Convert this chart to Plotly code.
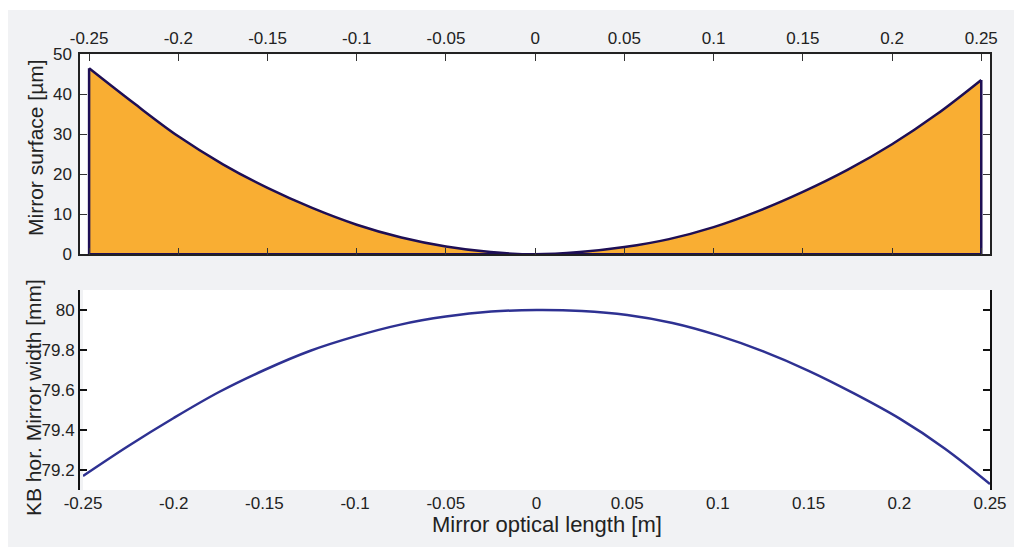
import plotly.graph_objects as go

# ---------------- data ----------------
# Mirror optical length [m]
x_pos = [-0.25, -0.225, -0.2, -0.175, -0.15, -0.125, -0.1, -0.075, -0.05, -0.025, 0.0,
         0.025, 0.05, 0.075, 0.1, 0.125, 0.15, 0.175, 0.2, 0.225, 0.25]
# Mirror surface [µm]
surface_um = [46.5, 37.8, 29.5, 22.5, 16.6, 11.6, 7.4, 4.2, 1.95, 0.55, 0.0,
              0.55, 1.8, 3.8, 6.8, 10.8, 15.6, 21.1, 27.5, 35.0, 43.6]
# KB hor. Mirror width [mm]
width_mm = [79.17, 79.32, 79.46, 79.59, 79.70, 79.795, 79.868, 79.927, 79.967, 79.992, 80.0,
            79.995, 79.975, 79.935, 79.873, 79.793, 79.696, 79.583, 79.458, 79.308, 79.13]

x_tickvals = [-0.25, -0.2, -0.15, -0.1, -0.05, 0, 0.05, 0.1, 0.15, 0.2, 0.25]
x_ticktext = ["-0.25", "-0.2", "-0.15", "-0.1", "-0.05", "0", "0.05", "0.1", "0.15", "0.2", "0.25"]
x_tick_marks_bottom = [-0.2, -0.1, 0, 0.1, 0.2]
y1_tickvals = [0, 10, 20, 30, 40, 50]
y2_tickvals = [79.2, 79.4, 79.6, 79.8, 80.0]
y2_ticktext = ["79.2", "79.4", "79.6", "79.8", "80"]

# ---------------- style ----------------
W, H = 1014, 547
FONT = "Liberation Sans, Arial, Helvetica, sans-serif"
ORANGE = "#F9AE33"
NAVY_DARK = "#1E0F55"
NAVY = "#2E3192"
BG = "#F1F2F4"
TICKFONT = dict(family=FONT, size=17, color="#222222")

def px(v, total):
    return v / total

fig = go.Figure()

# top: filled surface profile (fill only)
fill_x = [x_pos[0]] + x_pos + [x_pos[-1], x_pos[0]]
fill_y = [0] + surface_um + [0, 0]
fig.add_trace(go.Scatter(
    x=fill_x, y=fill_y, mode="lines", fill="toself", fillcolor=ORANGE,
    line=dict(color=ORANGE, width=0), xaxis="x", yaxis="y",
    hoverinfo="skip", showlegend=False))
# outline: vertical edges + bottom
fig.add_trace(go.Scatter(
    x=[x_pos[0], x_pos[0], None, x_pos[-1], x_pos[-1], None, x_pos[0], x_pos[-1]],
    y=[0, surface_um[0], None, 0, surface_um[-1], None, 0, 0],
    mode="lines", line=dict(color=NAVY_DARK, width=2.5), xaxis="x", yaxis="y",
    hoverinfo="skip", showlegend=False))
# outline: curve
fig.add_trace(go.Scatter(
    x=x_pos, y=surface_um, mode="lines", line=dict(color=NAVY_DARK, width=2.5, shape="spline"),
    xaxis="x", yaxis="y", showlegend=False))

# bottom: mirror width
fig.add_trace(go.Scatter(
    x=x_pos, y=width_mm, mode="lines", line=dict(color=NAVY, width=2.5, shape="spline"),
    xaxis="x3", yaxis="y2", showlegend=False))

top_x_dom = [px(80, W), px(990, W)]
top_y_dom = [1 - px(254.3, H), 1 - px(54.3, H)]
bot_x_dom = [px(83, W), px(990, W)]
bot_y_dom = [1 - px(490, H), 1 - px(290, H)]

common = dict(showgrid=False, zeroline=False, automargin=False)

fig.update_layout(
    template="none",
    width=W, height=H,
    margin=dict(l=0, r=0, t=0, b=0, pad=0),
    paper_bgcolor=BG, plot_bgcolor="white",
    showlegend=False,
    xaxis=dict(domain=top_x_dom, range=[-0.2551, 0.2549], anchor="y", side="top",
               tickmode="array", tickvals=x_tickvals, ticktext=x_ticktext,
               ticks="inside", ticklen=7, tickwidth=1, tickcolor="#333333",
               showline=True, linewidth=1.5, linecolor="#222222", mirror="ticks",
               tickfont=TICKFONT, ticklabelstandoff=2, **common),
    yaxis=dict(domain=top_y_dom, range=[0, 50], anchor="x",
               tickmode="array", tickvals=y1_tickvals,
               ticks="inside", ticklen=7, tickwidth=1, tickcolor="#333333",
               showline=True, linewidth=1.5, linecolor="#222222", mirror="ticks",
               tickfont=TICKFONT, ticklabelstandoff=3, **common),
    xaxis2=dict(domain=bot_x_dom, range=[-0.25, 0.25], anchor="y2",
                tickmode="array", tickvals=x_tick_marks_bottom, showticklabels=False,
                ticks="inside", ticklen=7, tickwidth=2, tickcolor="#111111",
                showline=True, linewidth=2, linecolor="#111111", mirror="ticks", **common),
    xaxis3=dict(domain=bot_x_dom, range=[-0.25, 0.25], anchor="y2", overlaying="x2",
                tickmode="array", tickvals=x_tickvals, ticktext=x_ticktext,
                ticks="", showline=False, tickfont=TICKFONT, ticklabelstandoff=1, **common),
    yaxis2=dict(domain=bot_y_dom, range=[79.1, 80.1], anchor="x2",
                tickmode="array", tickvals=y2_tickvals, ticktext=y2_ticktext,
                ticks="inside", ticklen=7, tickwidth=2, tickcolor="#111111",
                showline=True, linewidth=2, linecolor="#111111", mirror="ticks",
                tickfont=TICKFONT, **common),
    shapes=[
        dict(type="rect", xref="paper", yref="paper", x0=0, x1=px(8, W), y0=0, y1=1,
             fillcolor="white", line=dict(width=0), layer="below"),
        dict(type="rect", xref="paper", yref="paper", x0=0, x1=1, y0=1 - px(10, H), y1=1,
             fillcolor="white", line=dict(width=0), layer="below"),
    ],
    annotations=[
        dict(text="Mirror surface [µm]", textangle=-90, xref="paper", yref="paper",
             x=px(35, W), y=1 - px(148, H), xanchor="center", yanchor="middle",
             showarrow=False, font=dict(family=FONT, size=21, color="#222222")),
        dict(text="KB hor. Mirror width [mm]", textangle=-90, xref="paper", yref="paper",
             x=px(33, W), y=1 - px(398, H), xanchor="center", yanchor="middle",
             showarrow=False, font=dict(family=FONT, size=21, color="#222222")),
        dict(text="Mirror optical length [m]", xref="paper", yref="paper",
             x=px(547, W), y=1 - px(524, H), xanchor="center", yanchor="middle",
             showarrow=False, font=dict(family=FONT, size=22, color="#222222")),
    ],
)

fig.write_html("out.html")
